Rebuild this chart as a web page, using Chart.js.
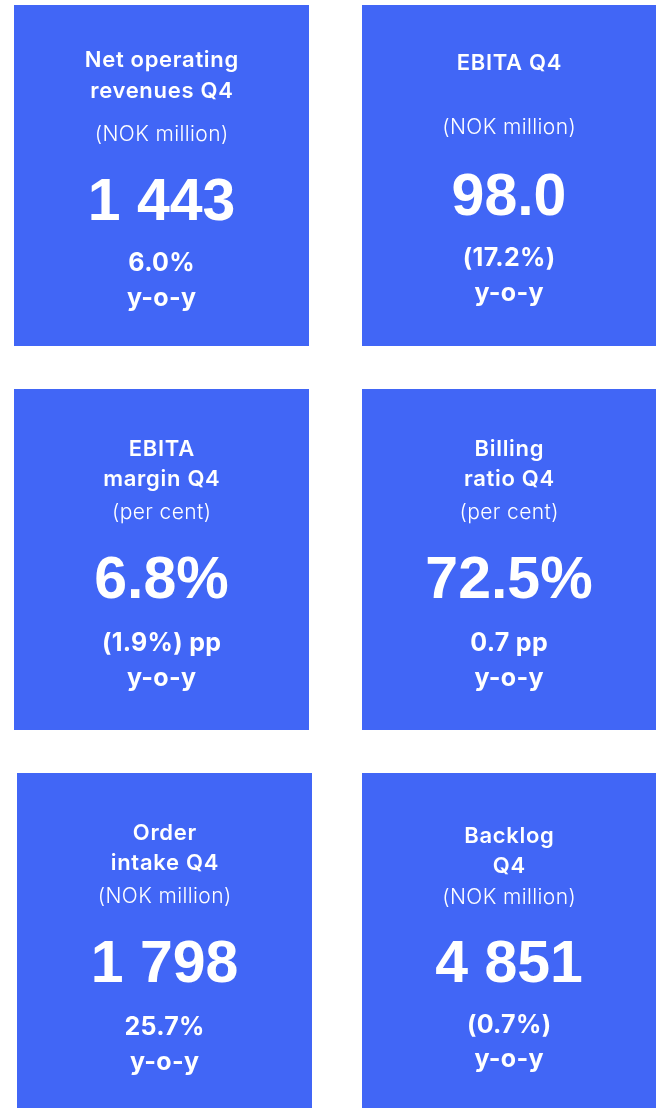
<!DOCTYPE html>
<html lang="en">
<head>
    <meta charset="UTF-8">
    <title>Q4 key figures</title>
    <style>
        html, body { margin: 0; padding: 0; background: #ffffff; }
        body { width: 656px; height: 1108px; position: relative; overflow: hidden; }
        .tile { position: absolute; }
    </style>
</head>
<body>
    <div class="tile" style="left:14px; top:5px; width:295px; height:341px;"><canvas id="kpi0"></canvas></div>
    <div class="tile" style="left:362px; top:5px; width:294px; height:341px;"><canvas id="kpi1"></canvas></div>
    <div class="tile" style="left:14px; top:389px; width:295px; height:341px;"><canvas id="kpi2"></canvas></div>
    <div class="tile" style="left:362px; top:389px; width:294px; height:341px;"><canvas id="kpi3"></canvas></div>
    <div class="tile" style="left:17px; top:773px; width:295px; height:335px;"><canvas id="kpi4"></canvas></div>
    <div class="tile" style="left:362px; top:773px; width:294px; height:335px;"><canvas id="kpi5"></canvas></div>

    <script src="https://cdn.jsdelivr.net/npm/chart.js"></script>
    <script>
        // KPI data, one entry per tile
        const titles = [
            ['Net operating', 'revenues Q4'],
            ['EBITA Q4'],
            ['EBITA', 'margin Q4'],
            ['Billing', 'ratio Q4'],
            ['Order', 'intake Q4'],
            ['Backlog', 'Q4']
        ];
        const units = ['(NOK million)', '(NOK million)', '(per cent)', '(per cent)', '(NOK million)', '(NOK million)'];
        const values = ['1 443', '98.0', '6.8%', '72.5%', '1 798', '4 851'];
        const changes = ['6.0%', '(17.2%)', '(1.9%) pp', '0.7 pp', '25.7%', '(0.7%)'];
        const changeLabel = 'y-o-y';

        const tileColor = '#4166F6';
        const textColor = '#ffffff';

        // vertical text positions inside a tile (px from top)
        const baseLayout = { title: [60, 90], unit: 124, value: 193, change: 254, yoy: 289 };
        const layouts = [
            { title: [55, 86], unit: 130, value: 199, change: 258, yoy: 293 },
            { title: [58], unit: 123, value: 194, change: 253, yoy: 288 },
            baseLayout,
            baseLayout,
            baseLayout,
            { title: [63, 93], unit: 125, value: 193, change: 252, yoy: 286 }
        ];

        function drawLine(ctx, text, x, y, spacing) {
            ctx.letterSpacing = spacing + 'px';
            // letterSpacing adds a trailing gap, shift back by half of it
            ctx.fillText(text, x + spacing / 2, y);
        }

        const tileText = {
            id: 'tileText',
            afterDatasetsDraw(chart, args, opts) {
                const i = opts.index;
                const lay = layouts[i];
                const ctx = chart.ctx;
                const cx = (chart.chartArea.left + chart.chartArea.right) / 2;
                const top = chart.chartArea.top;
                ctx.save();
                ctx.fillStyle = textColor;
                ctx.textAlign = 'center';
                ctx.textBaseline = 'middle';

                ctx.font = '600 22px Inter, "Noto Sans", sans-serif';
                titles[i].forEach((line, k) => drawLine(ctx, line, cx, top + lay.title[k], 0.7));

                ctx.font = '300 21px Inter, "Noto Sans", sans-serif';
                drawLine(ctx, units[i], cx, top + lay.unit, 0.4);

                ctx.font = 'bold 59px "Liberation Sans", Arial, sans-serif';
                drawLine(ctx, values[i], cx, top + lay.value, 0);

                ctx.font = 'bold 25px Inter, "Noto Sans", sans-serif';
                drawLine(ctx, changes[i], cx, top + lay.change, 0.3);
                drawLine(ctx, changeLabel, cx, top + lay.yoy, 0.3);
                ctx.restore();
            }
        };

        values.forEach((v, i) => {
            new Chart(document.getElementById('kpi' + i), {
                type: 'bar',
                data: {
                    labels: [titles[i].join(' ')],
                    datasets: [{
                        data: [1],
                        backgroundColor: tileColor,
                        borderWidth: 0,
                        barPercentage: 1,
                        categoryPercentage: 1
                    }]
                },
                options: {
                    responsive: true,
                    maintainAspectRatio: false,
                    animation: false,
                    layout: { padding: 0 },
                    scales: {
                        x: { display: false, offset: true },
                        y: { display: false, min: 0, max: 1 }
                    },
                    plugins: {
                        legend: { display: false },
                        tooltip: { enabled: false },
                        tileText: { index: i }
                    }
                },
                plugins: [tileText]
            });
        });
    </script>
</body>
</html>
